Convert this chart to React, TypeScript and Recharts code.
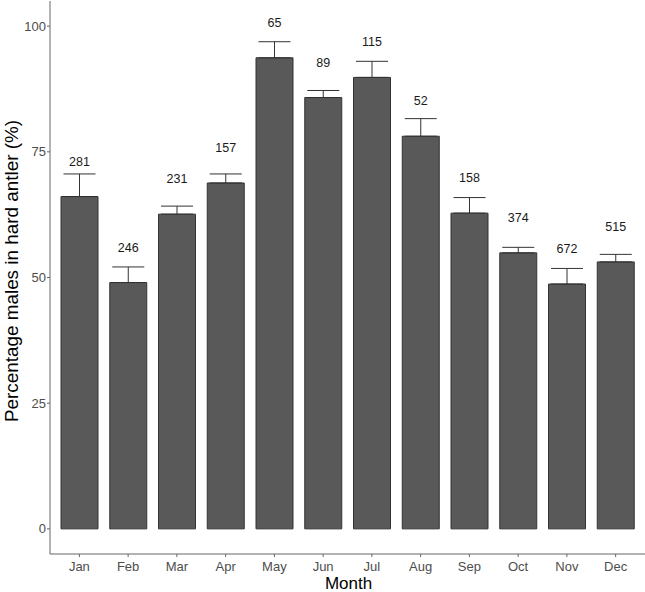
import { Bar, BarChart, ErrorBar, LabelList, XAxis, YAxis } from 'recharts';

const MONTHS = ['Jan', 'Feb', 'Mar', 'Apr', 'May', 'Jun', 'Jul', 'Aug', 'Sep', 'Oct', 'Nov', 'Dec'];
const PCT = [66.1, 49.0, 62.6, 68.8, 93.7, 85.8, 89.8, 78.1, 62.8, 54.9, 48.7, 53.1];
const SE = [4.5, 3.1, 1.6, 1.8, 3.2, 1.4, 3.2, 3.5, 3.1, 1.1, 3.1, 1.5];
const COUNTS = [281, 246, 231, 157, 65, 89, 115, 52, 158, 374, 672, 515];
const Y_TICKS = [0, 25, 50, 75, 100];

const rows = MONTHS.map((month, i) => ({
  month,
  pct: PCT[i],
  err: [0, SE[i]],
  n: COUNTS[i],
}));

const FONT = '"Liberation Sans", Arial, sans-serif';
const tick = { fill: '#4d4d4d', fontSize: 13, fontFamily: FONT };

// подпись n рисуем над столбцом на фиксированном расстоянии (~7 ед. шкалы)
function CountLabel(props: any) {
  const { x, y, width, value } = props;
  return (
    <text
      x={x + width / 2}
      y={y - 35}
      textAnchor="middle"
      dominantBaseline="central"
      fill="#1a1a1a"
      fontSize={12.5}
      fontFamily={FONT}
    >
      {value}
    </text>
  );
}

function YTitle() {
  const cy = 271;
  return (
    <text
      x={12}
      y={cy}
      transform={`rotate(-90, 12, ${cy})`}
      textAnchor="middle"
      dominantBaseline="central"
      fill="#000"
      fontSize={17.5}
      fontFamily={FONT}
      textLength={302}
      lengthAdjust="spacingAndGlyphs"
    >
      Percentage males in hard antler (%)
    </text>
  );
}

function XTitle(props: any) {
  const vb = props.viewBox;
  return (
    <text
      x={vb.x + vb.width / 2 + 1}
      y={583}
      textAnchor="middle"
      dominantBaseline="central"
      fill="#000"
      fontSize={17}
      fontFamily={FONT}
    >
      Month
    </text>
  );
}

export default function App() {
  return (
    <div style={{ position: 'absolute', left: 0, top: 0, background: '#fff' }}>
      <BarChart
        width={645}
        height={592}
        data={rows}
        margin={{ top: 1, right: 0, bottom: 0, left: 0 }}
      >
        <XAxis
          dataKey="month"
          height={38}
          padding={{ left: 5, right: 5 }}
          tick={tick}
          tickSize={3}
          tickMargin={5}
          stroke="#666"
          tickLine={{ stroke: '#666' }}
          axisLine={{ stroke: '#666' }}
          label={<XTitle />}
        />
        <YAxis
          type="number"
          domain={[-5, 105]}
          ticks={Y_TICKS}
          allowDataOverflow
          width={50}
          tick={tick}
          tickSize={3}
          tickMargin={1}
          stroke="#666"
          tickLine={{ stroke: '#666' }}
          axisLine={{ stroke: '#666' }}
          label={<YTitle />}
        />
        <Bar
          dataKey="pct"
          barSize={37}
          fill="#595959"
          stroke="#333"
          strokeWidth={1}
          isAnimationActive={false}
        >
          <ErrorBar dataKey="err" width={16} stroke="#333" strokeWidth={1} />
          <LabelList dataKey="n" content={<CountLabel />} />
        </Bar>
      </BarChart>
    </div>
  );
}
